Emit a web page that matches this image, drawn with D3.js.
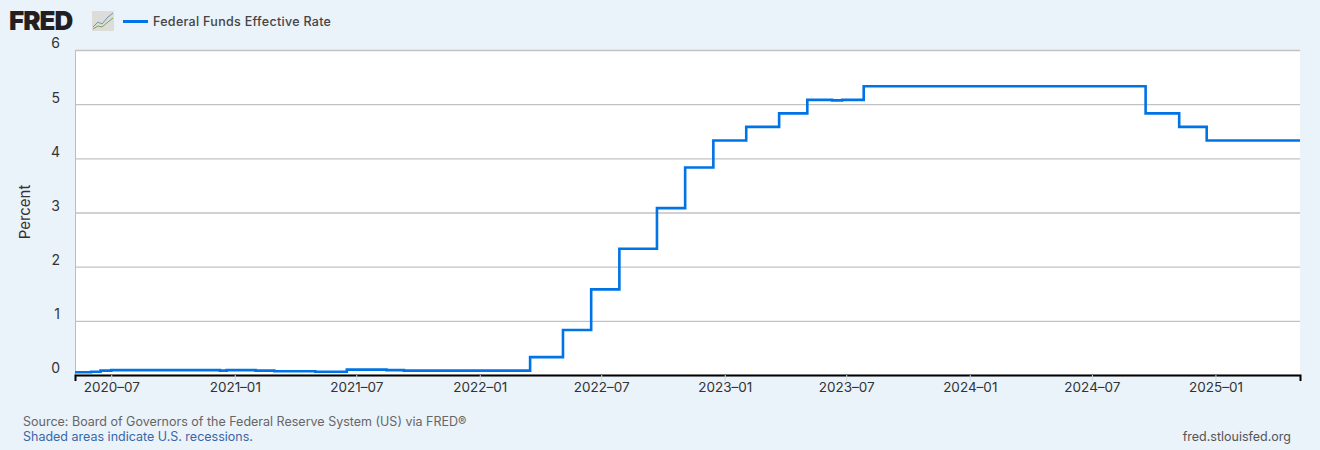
<!DOCTYPE html>
<html>
<head>
<meta charset="utf-8">
<script src="https://cdn.jsdelivr.net/npm/d3@7"></script>
<style>
html, body { margin: 0; padding: 0; background: #eaf2fa; }
svg { display: block; }
text { font-family: Inter, "Noto Sans", sans-serif; }
</style>
</head>
<body>
<div id="chart"></div>
<script>
// change points of the daily rate
var rate_dates = ["2020-05-08","2020-06-01","2020-06-15","2020-07-01","2020-08-01","2020-12-10","2020-12-20",
    "2021-02-01","2021-03-01","2021-05-01","2021-06-17","2021-08-15","2021-09-10",
    "2022-03-17","2022-05-05","2022-06-16","2022-07-28","2022-09-22","2022-11-03","2022-12-15",
    "2023-02-02","2023-03-23","2023-05-04","2023-06-10","2023-06-25","2023-07-27",
    "2024-09-19","2024-11-08","2024-12-19","2025-05-07"];
var rate_values = [0.05,0.06,0.08,0.09,0.09,0.08,0.09,
    0.08,0.07,0.06,0.10,0.09,0.08,
    0.33,0.83,1.58,2.33,3.08,3.83,4.33,
    4.58,4.83,5.08,5.07,5.08,5.33,
    4.83,4.58,4.33,4.33];
var y_ticks = [0,1,2,3,4,5,6];
var x_ticks = ["2020-07-01","2021-01-01","2021-07-01","2022-01-01","2022-07-01","2023-01-01","2023-07-01","2024-01-01","2024-07-01","2025-01-01"];

var width = 1320;
var height = 450;
var left = 75, right = 1300, top_y = 50, bottom = 375;
var parseDate = d3.utcParse("%Y-%m-%d");

var svg = d3.select("#chart").append("svg")
            .attr("width", width)
            .attr("height", height);

var xScale = d3.scaleUtc().domain([parseDate("2020-05-08"), parseDate("2025-05-07")]).range([left, right]);
var yScale = d3.scaleLinear().domain([0,6]).range([bottom, top_y]);

svg.append("rect")
    .attr("x", left).attr("y", top_y)
    .attr("width", right-left).attr("height", bottom-top_y)
    .attr("fill", "white");

// y axis, labels sit above the grid lines
var yAxis = svg.append("g")
    .attr("transform", "translate(" + left + ",0)")
    .call(d3.axisLeft(yScale).tickValues(y_ticks).tickSize(-(right-left)).tickFormat(d3.format("d")));
yAxis.select(".domain").attr("stroke", "#bdbdbd").attr("stroke-width", 1);
yAxis.selectAll("line").attr("stroke", "#c2c2c2").attr("stroke-width", 1.3);
yAxis.selectAll("text")
    .attr("x", -15).attr("dy", "-0.15em")
    .style("font-size", "14px").attr("fill", "#333");

// x axis
var xAxis = svg.append("g")
    .attr("transform", "translate(0," + bottom + ")")
    .call(d3.axisBottom(xScale).tickValues(x_ticks.map(parseDate)).tickSize(6).tickPadding(1)
        .tickFormat(d3.utcFormat("%Y\u2013%m")));
xAxis.select(".domain").attr("stroke", "black").attr("stroke-width", 2);
xAxis.selectAll("line").attr("stroke", "#cfd9e8");
xAxis.selectAll("text").style("font-size", "13.5px").attr("fill", "#333");

var points = rate_dates.map(function(d, i){ return [parseDate(d), rate_values[i]]; });
var rateLine = d3.line()
    .x(function(d){ return xScale(d[0]); })
    .y(function(d){ return yScale(d[1]); })
    .curve(d3.curveStepAfter);
svg.append("path")
    .attr("d", rateLine(points))
    .attr("fill", "none")
    .attr("stroke", "#0073e6")
    .attr("stroke-width", 2.6);

svg.append("text")
    .attr("transform", "translate(30,212) rotate(-90)")
    .attr("text-anchor", "middle")
    .style("font-size", "15px").attr("fill", "#333")
    .text("Percent");

// header: logo and legend
svg.append("text").attr("x", 9).attr("y", 30)
    .style("font-size", "26px").style("font-weight", 900).style("letter-spacing", "-1px")
    .attr("fill", "#231f20").text("FRED");
var icon = svg.append("g").attr("transform", "translate(92,11)");
icon.append("rect").attr("width", 22).attr("height", 20).attr("rx", 1).attr("fill", "#dcdcd8");
icon.append("path").attr("d", "M1,16L6,11L10,13L16,6L21,2").attr("fill", "none").attr("stroke", "#6b94b8").attr("stroke-width", 1);
icon.append("path").attr("d", "M1,18L6,15L10,16L16,11L21,7").attr("fill", "none").attr("stroke", "#7fa35a").attr("stroke-width", 1);

svg.append("line").attr("x1", 123).attr("x2", 148).attr("y1", 21.5).attr("y2", 21.5)
    .attr("stroke", "#0073e6").attr("stroke-width", 3);
svg.append("text").attr("x", 153).attr("y", 26)
    .style("font-size", "12.5px").style("font-weight", 500).style("letter-spacing", "0.3px")
    .attr("fill", "#444").text("Federal Funds Effective Rate");

// footer
svg.append("text").attr("x", 23).attr("y", 426)
    .style("font-size", "12.5px").attr("fill", "#666")
    .text("Source: Board of Governors of the Federal Reserve System (US) via FRED\u00ae");
svg.append("text").attr("x", 23).attr("y", 441)
    .style("font-size", "12.5px").attr("fill", "#3b66a5")
    .text("Shaded areas indicate U.S. recessions.");
svg.append("text").attr("x", 1291).attr("y", 441).attr("text-anchor", "end")
    .style("font-size", "12.5px").attr("fill", "#555")
    .text("fred.stlouisfed.org");
</script>
</body>
</html>
